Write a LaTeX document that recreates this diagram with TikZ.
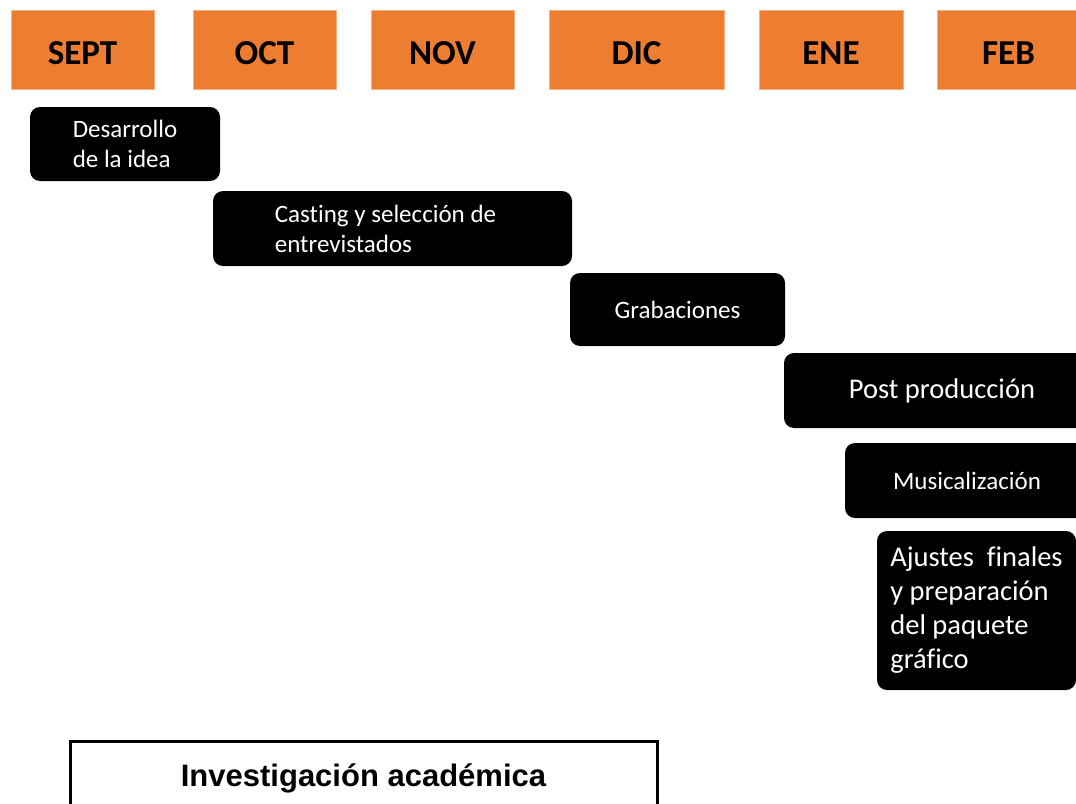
\documentclass[tikz,border=0pt]{standalone}
\usepackage{fontspec}
\setmainfont{Carlito}[Ligatures=NoCommon]
\newfontfamily\arialfont{Liberation Sans}
\usepackage{tikz}
\usepackage{xcolor}
\definecolor{mesorange}{HTML}{ED7D31}

\tikzset{
  mes/.style={fill=mesorange, draw=mesorange!60!white, line width=0.8pt,
    minimum height=79pt, inner sep=0pt, font=\bfseries\fontsize{35}{40}\selectfont},
  tarea/.style={fill=black, text=white, rounded corners=10pt, inner sep=0pt,
    align=left, font=\fontsize{25}{30}\selectfont},
  tareagrande/.style={tarea, font=\fontsize{28.5}{34}\selectfont},
}

\begin{document}
\begin{tikzpicture}[x=1pt,y=-1pt]
  \clip (0,0) rectangle (1076,803);

  % Month headers along the top
  \foreach \x/\w/\m in {11/143/SEPT,193/143/OCT,371/143/NOV,549/175/DIC,759/144/ENE,937/143/FEB}{
    \node[mes, minimum width=\w pt] (\m) at (\x+\w/2,49.5) {\raisebox{-14.5pt}[0pt][0pt]{\m}};
  }

  % The tasks, stepping down to the right
  \node[tarea, minimum width=190pt, minimum height=74pt] (idea) at (125,144) {Desarrollo\\de la idea};
  \node[tarea, minimum width=359pt, minimum height=75pt] (casting) at (392.5,228.5) {Casting y selección de\hspace*{14pt}\\entrevistados};
  \node[tarea, minimum width=215pt, minimum height=73pt] (grab) at (677.5,309.5) {Grabaciones};
  \node[tareagrande, minimum width=316pt, minimum height=75pt] (post) at (942,390.5) {Post producción};
  \node[tarea, minimum width=244pt, minimum height=75pt] (musica) at (967,480.5) {Musicalización};
  \node[tareagrande, minimum width=199pt, minimum height=159pt] (ajustes) at (976.5,610.5) {Ajustes\ \ finales\\y preparación\\del paquete\\gráfico};

  % Box at the bottom, runs off the page
  \node[draw, line width=3pt, minimum width=587pt, minimum height=74pt, inner sep=0pt,
    font=\arialfont\bfseries\fontsize{31}{36}\selectfont] (investigacion) at (363.5,778) {Investigación académica};
\end{tikzpicture}
\end{document}
